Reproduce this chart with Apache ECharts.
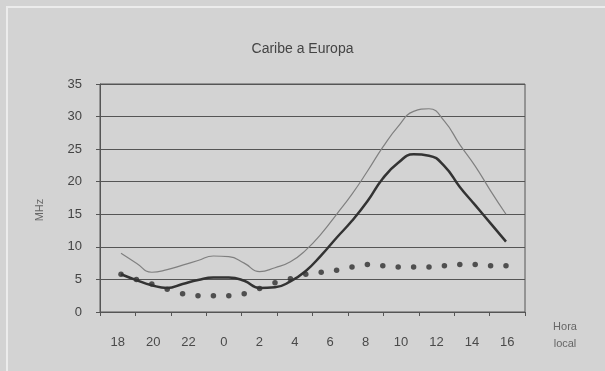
<!DOCTYPE html>
<html>
<head>
<meta charset="utf-8">
<script src="https://cdn.jsdelivr.net/npm/echarts@6/dist/echarts.min.js"></script>
<style>
  html, body { margin: 0; padding: 0; background: #d3d3d3; }
  #chart { width: 605px; height: 371px; }
</style>
</head>
<body>
<div id="chart"></div>
<script>
// hour labels on the x axis (local time)
const hourLabels = ['18', '20', '22', '0', '2', '4', '6', '8', '10', '12', '14', '16']

// readings along the day, 26 samples each (MHz)
const upperValues = [9.0, 7.5, 6.1, 6.5, 7.2, 7.9, 8.6, 8.5, 7.5, 6.2, 6.8, 7.7, 9.5,
  12.0, 15.0, 18.1, 21.6, 25.3, 28.5, 30.8, 31.2, 29.3, 25.7, 22.4, 18.6, 15.0]
const middleValues = [5.8, 4.9, 4.1, 3.7, 4.3, 4.9, 5.3, 5.3, 4.8, 3.7, 3.8, 4.7, 6.3,
  8.7, 11.4, 14.0, 17.0, 20.5, 22.9, 24.2, 24.0, 22.4, 19.2, 16.4, 13.6, 10.8]
const lowerValues = [5.8, 5.0, 4.3, 3.5, 2.8, 2.5, 2.5, 2.5, 2.8, 3.6, 4.5, 5.1, 5.8,
  6.1, 6.4, 6.9, 7.3, 7.1, 6.9, 6.9, 6.9, 7.1, 7.3, 7.3, 7.1, 7.1]

const yTicks = [0, 5, 10, 15, 20, 25, 30, 35]

const toPairs = arr => arr.map((v, i) => [i, v])

const chart = echarts.init(document.getElementById('chart'))

const option = {
  backgroundColor: '#d3d3d3',
  animation: false,
  title: {
    text: 'Caribe a Europa',
    left: 'center',
    top: 37,
    textStyle: { fontFamily: 'Liberation Sans', fontWeight: 'normal', fontSize: 14, color: '#444' }
  },
  graphic: [
    {
      type: 'rect',
      shape: { x: 7, y: 7, width: 620, height: 400 },
      style: { fill: 'none', stroke: '#ececec', lineWidth: 2 },
      silent: true
    }
  ],
  grid: {
    left: 100,
    right: 80,
    top: 84,
    bottom: 59,
    show: true,
    borderColor: '#555',
    borderWidth: 1,
    backgroundColor: 'transparent'
  },
  xAxis: [
    {
      type: 'category',
      data: hourLabels,
      boundaryGap: true,
      axisLine: { lineStyle: { color: '#555', width: 1 } },
      axisTick: { show: true, length: 4, lineStyle: { color: '#555' } },
      axisLabel: { fontFamily: 'Liberation Sans', fontSize: 13, color: '#4a4a4a', margin: 24 },
      splitLine: { show: false },
      name: 'Hora\nlocal',
      nameLocation: 'end',
      nameGap: 40,
      nameTextStyle: {
        fontFamily: 'Liberation Sans', fontSize: 11, color: '#666',
        align: 'center', verticalAlign: 'top', lineHeight: 17, padding: [6, 0, 0, 0]
      }
    },
    {
      type: 'value',
      min: -1.364,
      max: 26.234,
      show: false
    }
  ],
  yAxis: {
    type: 'value',
    min: yTicks[0],
    max: yTicks[yTicks.length - 1],
    interval: 5,
    axisLine: { show: true, onZero: false, lineStyle: { color: '#555', width: 1 } },
    axisTick: { show: true, length: 4, lineStyle: { color: '#555' } },
    axisLabel: { fontFamily: 'Liberation Sans', fontSize: 13, color: '#444', margin: 18 },
    splitLine: { lineStyle: { color: '#555', width: 1 } },
    name: 'MHz',
    nameLocation: 'middle',
    nameRotate: 90,
    nameGap: 55,
    nameTextStyle: { fontFamily: 'Liberation Sans', fontSize: 11, color: '#666', padding: [0, 0, 0, -24] }
  },
  series: [
    {
      name: 'upper',
      type: 'line',
      xAxisIndex: 1,
      smooth: true,
      symbol: 'none',
      lineStyle: { color: '#808080', width: 1.2 },
      data: toPairs(upperValues)
    },
    {
      name: 'middle',
      type: 'line',
      xAxisIndex: 1,
      smooth: true,
      symbol: 'none',
      lineStyle: { color: '#333', width: 2.5 },
      data: toPairs(middleValues)
    },
    {
      name: 'lower',
      type: 'scatter',
      xAxisIndex: 1,
      symbolSize: 5.5,
      itemStyle: { color: '#2e2e2e' },
      data: toPairs(lowerValues)
    }
  ]
}

chart.setOption(option)
</script>
</body>
</html>
